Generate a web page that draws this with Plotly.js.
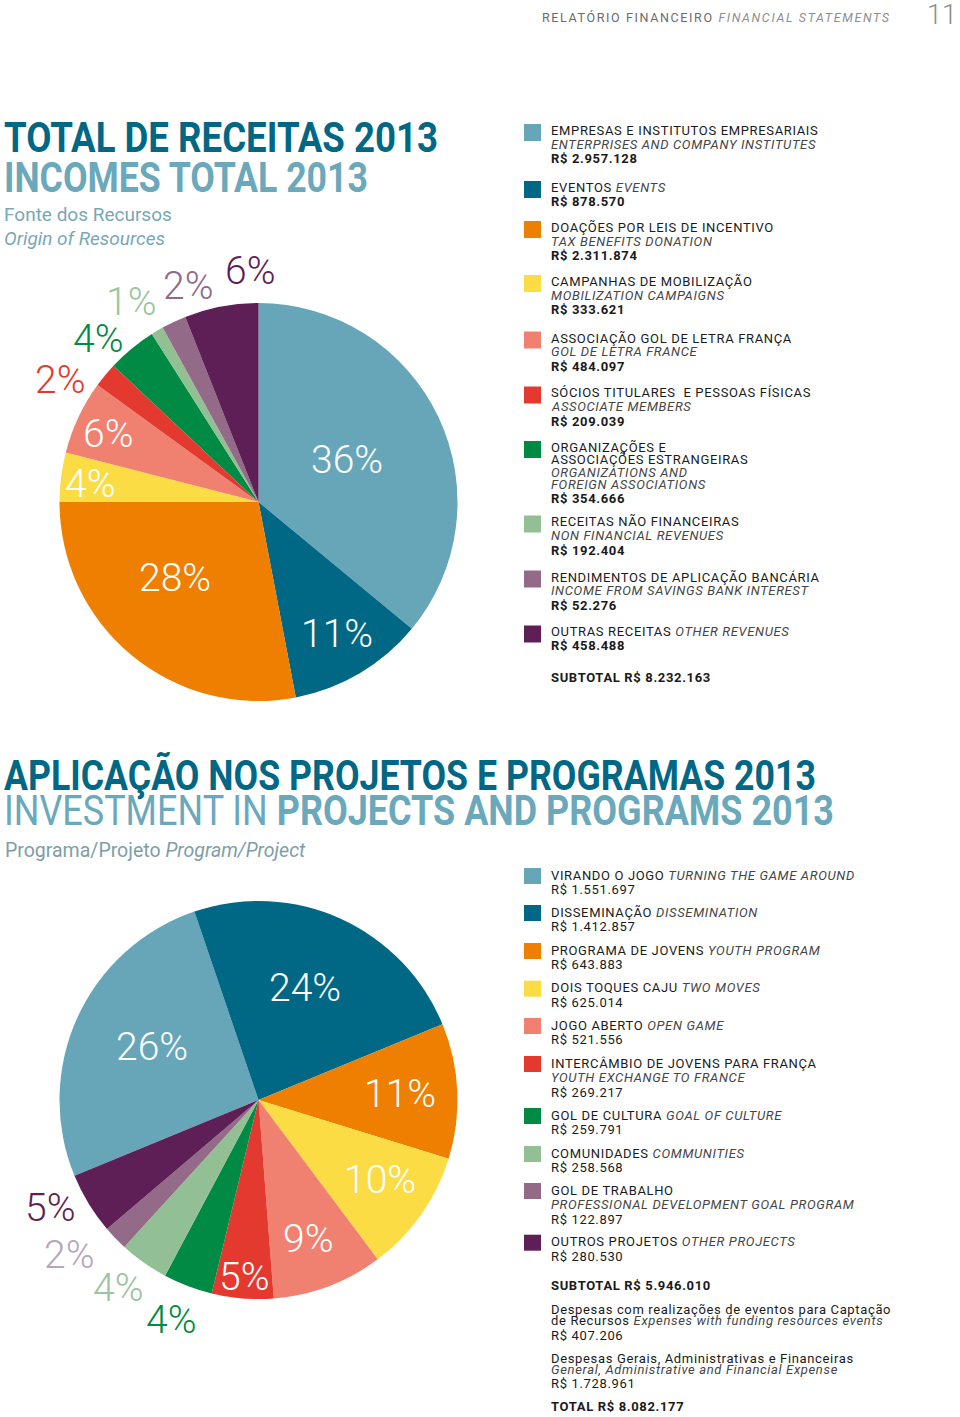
<!DOCTYPE html>
<html>
<head>
<meta charset="utf-8">
<script src="https://cdn.plot.ly/plotly-3.0.1.min.js"></script>
<style>html,body{margin:0;padding:0;background:#fff;}</style>
</head>
<body>
<div id="chart" style="width:960px;height:1417px;"></div>
<script>
// ================= DATA =================
const sliceColors = ["#67a6b9", "#006885", "#ee7f00", "#fcdc45", "#f08070",
                     "#e4392e", "#008a43", "#93bf95", "#936a88", "#5e1f56"];

// Total de receitas 2013
const incomeNamesPt = ["EMPRESAS E INSTITUTOS EMPRESARIAIS", "EVENTOS", "DOAÇÕES POR LEIS DE INCENTIVO",
  "CAMPANHAS DE MOBILIZAÇÃO", "ASSOCIAÇÃO GOL DE LETRA FRANÇA", "SÓCIOS TITULARES  E PESSOAS FÍSICAS",
  "ORGANIZAÇÕES E\nASSOCIAÇÕES ESTRANGEIRAS", "RECEITAS NÃO FINANCEIRAS",
  "RENDIMENTOS DE APLICAÇÃO BANCÁRIA", "OUTRAS RECEITAS"];
const incomeNamesEn = ["ENTERPRISES AND COMPANY INSTITUTES", "EVENTS", "TAX BENEFITS DONATION",
  "MOBILIZATION CAMPAIGNS", "GOL DE LETRA FRANCE", "ASSOCIATE MEMBERS",
  "ORGANIZATIONS AND\nFOREIGN ASSOCIATIONS", "NON FINANCIAL REVENUES",
  "INCOME FROM SAVINGS BANK INTEREST", "OTHER REVENUES"];
const incomeAmounts = ["R$ 2.957.128", "R$ 878.570", "R$ 2.311.874", "R$ 333.621", "R$ 484.097",
  "R$ 209.039", "R$ 354.666", "R$ 192.404", "R$ 52.276", "R$ 458.488"];
const incomePct = [36, 11, 28, 4, 6, 2, 4, 1, 2, 6];
const incomeSubtotal = "SUBTOTAL R$ 8.232.163";

// Aplicação nos projetos e programas 2013
const projectNamesPt = ["VIRANDO O JOGO", "DISSEMINAÇÃO", "PROGRAMA DE JOVENS", "DOIS TOQUES CAJU",
  "JOGO ABERTO", "INTERCÂMBIO DE JOVENS PARA FRANÇA", "GOL DE CULTURA", "COMUNIDADES",
  "GOL DE TRABALHO", "OUTROS PROJETOS"];
const projectNamesEn = ["TURNING THE GAME AROUND", "DISSEMINATION", "YOUTH PROGRAM", "TWO MOVES",
  "OPEN GAME", "YOUTH EXCHANGE TO FRANCE", "GOAL OF CULTURE", "COMMUNITIES",
  "PROFESSIONAL DEVELOPMENT GOAL PROGRAM", "OTHER PROJECTS"];
const projectAmounts = ["R$ 1.551.697", "R$ 1.412.857", "R$ 643.883", "R$ 625.014", "R$ 521.556",
  "R$ 269.217", "R$ 259.791", "R$ 258.568", "R$ 122.897", "R$ 280.530"];
const projectPct = [26, 24, 11, 10, 9, 5, 4, 4, 2, 5];
const projectSubtotal = "SUBTOTAL R$ 5.946.010";
const projectExtraPt = ["Despesas com realizações de eventos para Captação\nde Recursos", "Despesas Gerais, Administrativas e Financeiras"];
const projectExtraEn = ["Expenses with funding resources events", "General, Administrative and Financial Expense"];
const projectExtraAmounts = ["R$ 407.206", "R$ 1.728.961"];
const projectTotal = "TOTAL R$ 8.082.177";

// ================= LAYOUT / STYLE =================
const W = 960, H = 1417;
const px = x => x / W;
const py = y => 1 - y / H;

const pie1 = {cx: 258.5, cy: 502, r: 199, rotation: 0};
const pie2 = {cx: 258.5, cy: 1100, r: 199, rotation: 247.6};

// label placement styles (radius factor, angular nudge)
const lab1K = [0.49, 0.77, 0.57, 0.85, 0.83, 1.17, 1.15, 1.19, 1.14, 1.16];
const lab1D = [0, 0, 8, -1, -1, -8, -5, -2, 7, 8.7];
const lab1C = ["#fff", "#fff", "#fff", "#fff", "#fff", "#e4392e", "#008a43", "#9cc49e", "#8f6b87", "#5e1f56"];
const lab2K = [0.60, 0.61, 0.71, 0.73, 0.74, 0.89, 1.19, 1.18, 1.23, 1.18];
const lab2D = [2, -2, 0, -2, 1, 0, 1, 1.5, 4.6, 4];
const lab2C = ["#fff", "#fff", "#fff", "#fff", "#fff", "#fff", "#008a43", "#9cc49e", "#b8a6b6", "#5e1f56"];

const legend1Y = [130, 187, 227, 281, 337.5, 392.5, 447, 521.5, 576.5, 631.5];
const legend1Inline = [false, true, false, false, false, false, false, false, false, true];
const legend2Y = [875, 912, 950, 987.7, 1025, 1063, 1115, 1153, 1190, 1241.7];
const legend2Inline = [true, true, true, true, true, false, true, true, false, true];

const bodyFont = "Roboto, 'Open Sans', 'DejaVu Sans', sans-serif";
const titleFont = "Roboto, 'DejaVu Sans', sans-serif";
const pctFont = "Roboto, Lato, sans-serif";
const darkTeal = "#006885", lightTeal = "#6aa8bb";
const LEG = 13;
const TRACK = '0.65px';

function domainOf(p) {
  return {x: [px(p.cx - p.r), px(p.cx + p.r)], y: [py(p.cy + p.r), py(p.cy - p.r)]};
}

function pieTrace(p, values, names) {
  return {
    type: 'pie', values: values, labels: names, sort: false, direction: 'clockwise',
    rotation: p.rotation, domain: domainOf(p), textinfo: 'none', hoverinfo: 'label+percent',
    marker: {colors: sliceColors, line: {width: 0}}, showlegend: false
  };
}

function pctLabels(p, pct, k, d, colors) {
  const total = pct.reduce((a, b) => a + b, 0);
  let cum = 0;
  return pct.map((v, i) => {
    const mid = p.rotation + (cum + v / 2) / total * 360 + d[i];
    cum += v;
    const a = mid * Math.PI / 180;
    const rr = k[i] * p.r;
    return {
      xref: 'paper', yref: 'paper', x: px(p.cx + rr * Math.sin(a)), y: py(p.cy - rr * Math.cos(a)),
      xanchor: 'center', yanchor: 'middle', showarrow: false, text: v + '%',
      font: {family: pctFont, size: 39, color: colors[i], weight: 300}
    };
  });
}

function txt(text, x, y, size, color, weight, family, style) {
  return {
    xref: 'paper', yref: 'paper', x: px(x), y: py(y), xanchor: 'left', yanchor: 'middle',
    align: 'left', showarrow: false, text: text, borderpad: 0,
    font: {family: family || bodyFont, size: size, color: color, weight: weight || 'normal', style: style || 'normal'}
  };
}

const annotations = [];
const shapes = [];
const fitWidths = {};   // annotation index -> [target width, lengthAdjust]
const tracked = new Set();  // annotation indices drawn with letter tracking

function body(text, y, weight) {
  tracked.add(annotations.length);
  annotations.push(txt(text, 550, y, LEG, '#1a1a1a', weight));
}

function legend(ptNames, enNames, amounts, ys, inline, amountWeight, sqTop, sqBot, step, wrapStep) {
  ys.forEach((y0, i) => {
    shapes.push({type: 'rect', xref: 'paper', yref: 'paper', x0: px(524), x1: px(541),
      y0: py(y0 + sqBot), y1: py(y0 + sqTop), fillcolor: sliceColors[i], line: {width: 0}, layer: 'above'});
    const lines = [];
    const ptParts = ptNames[i].split('\n');
    const enParts = enNames[i].split('\n');
    if (inline[i]) {
      lines.push({t: ptParts[0] + ' <i><span style="color:#454545">' + enParts[0] + '</span></i>', wrap: false, w: 'normal'});
    } else {
      ptParts.forEach((s, j) => lines.push({t: s, wrap: j > 0, w: 'normal'}));
      enParts.forEach((s, j) => lines.push({t: '<i><span style="color:#454545">' + s + '</span></i>', wrap: j > 0, w: 'normal'}));
    }
    lines.push({t: amounts[i], wrap: false, w: amountWeight});
    let y = y0;
    lines.forEach((ln, j) => {
      if (j > 0) y += ln.wrap ? wrapStep : step;
      body(ln.t, y, ln.w);
    });
  });
}

legend(incomeNamesPt, incomeNamesEn, incomeAmounts, legend1Y, legend1Inline, 'bold', -6, 11, 14.3, 11.5);
legend(projectNamesPt, projectNamesEn, projectAmounts, legend2Y, legend2Inline, 'normal', -7, 9, 14.8, 12);

body(incomeSubtotal, 677, 'bold');
body(projectSubtotal, 1285, 'bold');
// extra expense lines
const extraY = [1309, 1358];
projectExtraPt.forEach((s, i) => {
  const parts = s.split('\n');
  let y = extraY[i];
  if (parts.length > 1) {
    body(parts[0], y);
    y += 11.8;
    body(parts[1] + ' <i><span style="color:#454545">' + projectExtraEn[i] + '</span></i>', y);
  } else {
    body(parts[0], y);
    y += 11.5;
    body('<i><span style="color:#454545">' + projectExtraEn[i] + '</span></i>', y);
  }
  y += 14.2;
  body(projectExtraAmounts[i], y);
});
body(projectTotal, 1406.7, 'bold');

// header
fitWidths[annotations.length] = [347, 'spacing'];
annotations.push(txt('RELATÓRIO FINANCEIRO <i><span style="color:#8e8e8e">FINANCIAL STATEMENTS</span></i>', 541, 17.5, 12.5, '#6b6b6b'));
const pageNum = txt('11', 958, 15, 27, '#8e8e8e', 300);
pageNum.xanchor = 'right';
annotations.push(pageNum);

// titles (condensed display face emulated by fitting each line to its printed width)
fitWidths[annotations.length] = [434, 'spacingAndGlyphs'];
annotations.push(txt('TOTAL DE RECEITAS 2013', 3, 137.5, 42, darkTeal, 'bold', titleFont));
fitWidths[annotations.length] = [364, 'spacingAndGlyphs'];
annotations.push(txt('INCOMES TOTAL 2013', 3, 177.5, 42, lightTeal, 'bold', titleFont));
annotations.push(txt('Fonte dos Recursos', 3, 214, 19, '#78a8b6'));
annotations.push(txt('<i>Origin of Resources</i>', 3, 238, 19, '#78a8b6'));
fitWidths[annotations.length] = [812, 'spacingAndGlyphs'];
annotations.push(txt('APLICAÇÃO NOS PROJETOS E PROGRAMAS 2013', 3, 775, 42, darkTeal, 'bold', titleFont));
fitWidths[annotations.length] = [830, 'spacingAndGlyphs'];
annotations.push(txt('<span style="font-weight:normal">INVESTMENT IN</span> PROJECTS AND PROGRAMS 2013', 3, 810.5, 42, lightTeal, 'bold', titleFont));
annotations.push(txt('Programa/Projeto <i>Program/Project</i>', 4, 850, 19.5, '#7d9ea7'));

// percentage labels
pctLabels(pie1, incomePct, lab1K, lab1D, lab1C).forEach(a => annotations.push(a));
pctLabels(pie2, projectPct, lab2K, lab2D, lab2C).forEach(a => annotations.push(a));

const data = [
  pieTrace(pie1, incomePct, incomeNamesPt.map(s => s.replace('\n', ' '))),
  pieTrace(pie2, projectPct, projectNamesPt)
];

const layout = {
  width: W, height: H, margin: {l: 0, r: 0, t: 0, b: 0},
  paper_bgcolor: '#ffffff', plot_bgcolor: '#ffffff',
  showlegend: false, annotations: annotations, shapes: shapes
};

Plotly.newPlot('chart', data, layout, {displayModeBar: false, staticPlot: true}).then(gd => {
  gd.querySelectorAll('g.annotation').forEach(g => {
    const idx = +g.getAttribute('data-index');
    const t = g.querySelector('text.annotation-text');
    if (!t) return;
    if (tracked.has(idx)) t.style.letterSpacing = TRACK;
    const fit = fitWidths[idx];
    if (fit) {
      t.setAttribute('textLength', fit[0]);
      t.setAttribute('lengthAdjust', fit[1]);
    }
  });
});
</script>
</body>
</html>
